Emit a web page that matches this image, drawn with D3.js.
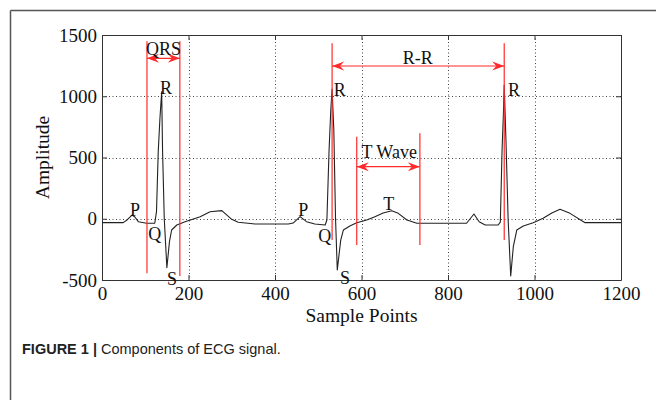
<!DOCTYPE html>
<html>
<head>
<meta charset="utf-8">
<script src="https://cdn.jsdelivr.net/npm/d3@7"></script>
<style>
  html, body { margin: 0; padding: 0; background: #fff; }
  svg { display: block; }
</style>
</head>
<body>
<svg id="chart" width="656" height="400"></svg>
<script>
// ---- Data ----
const sampleX = [0, 49, 58, 70, 76, 84, 103, 122, 126, 130, 134, 138, 140, 144, 150, 156, 161, 173, 192, 227, 250, 277, 300, 315, 354, 431, 442, 458, 473, 492, 516,
  520, 525, 529, 532, 536, 540, 544, 552, 558, 573, 589, 612, 631, 650, 670, 685, 705, 728, 843, 860, 872, 886, 916,
  921, 925, 928, 930, 934, 939, 945, 951, 959, 974, 997, 1020, 1040, 1059, 1082, 1117, 1200];
const amplitude = [-32, -32, -10, 31, 14, -24, -37, -37, 58, 547, 822, 1037, 560, -2, -400, -187, -92, -51, -24, 17, 57, 66, -5, -29, -43, -43, -35, 17, -24, -43, -51,
  -10, 560, 887, 1057, 724, -2, -418, -174, -92, -59, -32, -10, 17, 47, 66, 44, -10, -37, -37, 39, -24, -51, -51,
  -27, 560, 847, 1092, 643, -2, -467, -228, -92, -59, -32, 4, 47, 77, 44, -32, -32];

const xTicks = [0, 200, 400, 600, 800, 1000, 1200];
const yTicks = [-500, 0, 500, 1000, 1500];

// red marker lines: [x, yTop, yBottom]
const markerLines = [
  [104, 1449, -445], [180, 1449, -467],   // QRS
  [532, 1432, -174], [930, 1432, -174],   // R-R
  [589, 670, -214], [735, 697, -214]      // T wave
];
// double arrows: [x1, x2, y]
const arrows = [[104, 180, 1310], [532, 930, 1247], [589, 735, 425]];
// labels: [text, x, y, anchor]
const waveLabels = [
  ["R", 134, 1017, "start"], ["R", 536, 1002, "start"], ["R", 939, 1002, "start"],
  ["P", 65, 22, "start"], ["P", 454, 22, "start"],
  ["Q", 107, -173, "start"], ["Q", 500, -190, "start"],
  ["S", 150, -541, "start"], ["S", 550, -533, "start"],
  ["T", 650, 71, "start"],
  ["QRS", 142, 1337, "middle"], ["R-R", 730, 1263, "middle"], ["T Wave", 600, 496, "start"]
];

// ---- Layout ----
const svg = d3.select("#chart");
const L = 102, R = 621, T = 35, B = 280;
const x = d3.scaleLinear().domain([0, 1200]).range([L, R]);
const y = d3.scaleLinear().domain([-500, 1500]).range([B, T]);
const serif = "'Liberation Serif', 'Times New Roman', serif";

// outer frame (top + left)
svg.append("line").attr("x1", 10.5).attr("x2", 656).attr("y1", 10.5).attr("y2", 10.5)
  .attr("stroke", "#555").attr("stroke-width", 1.5);
svg.append("line").attr("x1", 10.5).attr("x2", 10.5).attr("y1", 10.5).attr("y2", 400)
  .attr("stroke", "#555").attr("stroke-width", 1.5);

// grid
const g = svg.append("g");
g.selectAll(".gx").data(xTicks.filter(d => d > 0 && d < 1200)).join("line")
  .attr("x1", d => Math.round(x(d)) + 0.5).attr("x2", d => Math.round(x(d)) + 0.5)
  .attr("y1", T).attr("y2", B)
  .attr("stroke", "#444").attr("stroke-dasharray", "1,2.5");
g.selectAll(".gy").data(yTicks.filter(d => d > -500 && d < 1500)).join("line")
  .attr("y1", d => Math.round(y(d)) + 0.5).attr("y2", d => Math.round(y(d)) + 0.5)
  .attr("x1", L).attr("x2", R)
  .attr("stroke", "#444").attr("stroke-dasharray", "1,2.5");

// axes (ticks inside, MATLAB box)
const fmt = d => String(d);
function styleAxis(sel) {
  sel.selectAll("path").attr("stroke", "#333");
  sel.selectAll("line").attr("stroke", "#333");
  sel.selectAll("text").attr("font-family", serif).attr("font-size", 19).attr("fill", "#111");
}
svg.append("g").attr("transform", `translate(0,${B})`)
  .call(d3.axisBottom(x).tickValues(xTicks).tickFormat(fmt).tickSizeInner(-5).tickSizeOuter(0).tickPadding(7))
  .call(styleAxis);
svg.append("g").attr("transform", `translate(${L},0)`)
  .call(d3.axisLeft(y).tickValues(yTicks).tickFormat(fmt).tickSizeInner(-5).tickSizeOuter(0).tickPadding(5))
  .call(styleAxis);
svg.append("g").attr("transform", `translate(0,${T})`)
  .call(d3.axisTop(x).tickValues(xTicks).tickSizeInner(-5).tickSizeOuter(0).tickFormat(""))
  .call(styleAxis);
svg.append("g").attr("transform", `translate(${R},0)`)
  .call(d3.axisRight(y).tickValues(yTicks).tickSizeInner(-5).tickSizeOuter(0).tickFormat(""))
  .call(styleAxis);
svg.selectAll(".domain").attr("fill", "none");

// axis titles
svg.append("text").attr("x", (L + R) / 2).attr("y", 322).attr("text-anchor", "middle")
  .attr("font-family", serif).attr("font-size", 19.5).attr("fill", "#111").text("Sample Points");
svg.append("text").attr("transform", `translate(49,${(T + B) / 2}) rotate(-90)`).attr("text-anchor", "middle")
  .attr("font-family", serif).attr("font-size", 19.5).attr("fill", "#111").text("Amplitude");

// ECG trace
const pts = sampleX.map((d, i) => [d, amplitude[i]]);
svg.append("path").datum(pts)
  .attr("d", d3.line().x(d => x(d[0])).y(d => y(d[1])))
  .attr("fill", "none").attr("stroke", "#222").attr("stroke-width", 1.1).attr("stroke-linejoin", "round");

// red markers
const red = "#ff2a2a";
svg.selectAll(".mk").data(markerLines).join("line")
  .attr("x1", d => x(d[0])).attr("x2", d => x(d[0]))
  .attr("y1", d => y(d[1])).attr("y2", d => y(d[2]))
  .attr("stroke", red).attr("stroke-width", 1.2);

function arrowHead(tx, ty, dir) {
  const len = 12, hw = 4.5, notch = 8;
  return `M${tx},${ty} L${tx - dir * len},${ty - hw} L${tx - dir * notch},${ty} L${tx - dir * len},${ty + hw} Z`;
}
arrows.forEach(a => {
  const x1 = x(a[0]), x2 = x(a[1]), yy = y(a[2]);
  svg.append("line").attr("x1", x1).attr("x2", x2).attr("y1", yy).attr("y2", yy)
    .attr("stroke", red).attr("stroke-width", 1.2);
  svg.append("path").attr("d", arrowHead(x1, yy, -1)).attr("fill", red);
  svg.append("path").attr("d", arrowHead(x2, yy, 1)).attr("fill", red);
});

// labels
svg.selectAll(".lb").data(waveLabels).join("text")
  .attr("x", d => x(d[1])).attr("y", d => y(d[2])).attr("text-anchor", d => d[3])
  .attr("font-family", serif).attr("font-size", 18).attr("fill", "#111").text(d => d[0]);

// caption
const cap = svg.append("text").attr("x", 22).attr("y", 354)
  .attr("font-family", "'Liberation Sans', Arial, sans-serif").attr("font-size", 14.5).attr("fill", "#222");
cap.append("tspan").attr("font-weight", "bold").text("FIGURE 1 | ");
cap.append("tspan").text("Components of ECG signal.");
</script>
</body>
</html>
